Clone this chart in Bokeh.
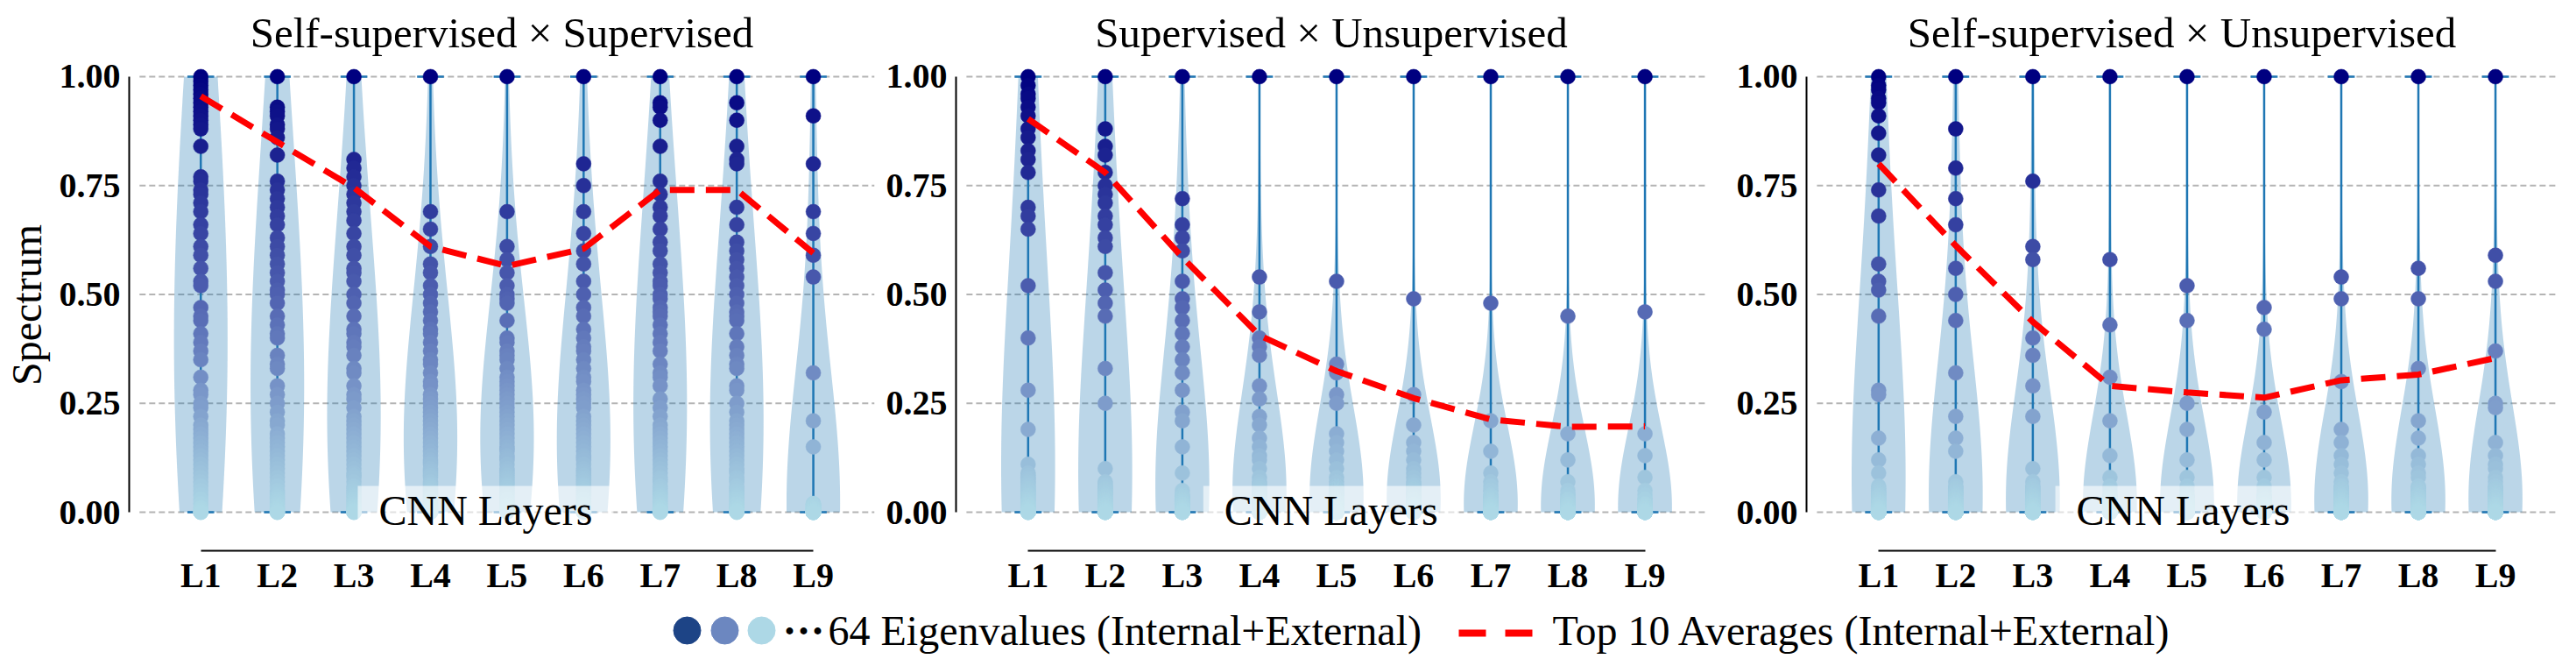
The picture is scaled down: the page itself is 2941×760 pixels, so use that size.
import math
import numpy as np
from bokeh.plotting import figure
from bokeh.layouts import row, column
from bokeh.models import Label, Range1d, FixedTicker, NumeralTickFormatter
from bokeh.embed import file_html
from bokeh.resources import INLINE
from bokeh.core.properties import value

# ---------------- data ----------------
layers = ["L1", "L2", "L3", "L4", "L5", "L6", "L7", "L8", "L9"]
panel_titles = ["Self-supervised \u00d7 Supervised",
                "Supervised \u00d7 Unsupervised",
                "Self-supervised \u00d7 Unsupervised"]
y_ticks = [0.0, 0.25, 0.5, 0.75, 1.0]
legend_labels = ["64 Eigenvalues (Internal+External)",
                 "Top 10 Averages (Internal+External)"]

top10_self_sup = [0.955, 0.85, 0.745, 0.61, 0.565, 0.605, 0.74, 0.74, 0.595]
top10_sup_unsup = [0.903, 0.78, 0.585, 0.406, 0.324, 0.262, 0.213, 0.196, 0.197]
top10_self_unsup = [0.80, 0.612, 0.437, 0.29, 0.275, 0.263, 0.303, 0.316, 0.354]

eig_self_sup = [
    [1.0, 0.99, 0.98, 0.97, 0.96, 0.95, 0.94, 0.93, 0.92, 0.91,
     0.90, 0.89, 0.88, 0.84, 0.77, 0.76, 0.74, 0.73, 0.71, 0.69,
     0.66, 0.64, 0.61, 0.59, 0.56, 0.53, 0.52, 0.47, 0.45, 0.44,
     0.41, 0.39, 0.37, 0.35, 0.31, 0.28, 0.27, 0.25, 0.24, 0.22,
     0.20, 0.19, 0.18, 0.17, 0.16, 0.15, 0.14, 0.13, 0.12, 0.11,
     0.10, 0.09, 0.08, 0.07, 0.06, 0.05, 0.04, 0.03, 0.02, 0.01,
     0.005, 0.0, 0.0, 0.0],
    [1.0, 0.93, 0.92, 0.91, 0.89, 0.88, 0.86, 0.82, 0.76, 0.74,
     0.72, 0.70, 0.68, 0.66, 0.63, 0.61, 0.59, 0.57, 0.55, 0.53,
     0.51, 0.50, 0.48, 0.45, 0.43, 0.41, 0.40, 0.36, 0.34, 0.33,
     0.29, 0.27, 0.25, 0.23, 0.21, 0.20, 0.18, 0.17, 0.16, 0.15,
     0.14, 0.13, 0.12, 0.11, 0.10, 0.09, 0.08, 0.07, 0.06, 0.05,
     0.045, 0.04, 0.035, 0.03, 0.025, 0.02, 0.015, 0.01, 0.008, 0.005,
     0.003, 0.0, 0.0, 0.0],
    [1.0, 0.81, 0.79, 0.77, 0.75, 0.73, 0.71, 0.69, 0.67, 0.64,
     0.61, 0.59, 0.56, 0.55, 0.53, 0.50, 0.48, 0.45, 0.42, 0.41,
     0.39, 0.38, 0.36, 0.33, 0.32, 0.29, 0.27, 0.26, 0.24, 0.22,
     0.21, 0.20, 0.19, 0.18, 0.17, 0.16, 0.15, 0.14, 0.13, 0.12,
     0.11, 0.10, 0.09, 0.085, 0.08, 0.07, 0.06, 0.055, 0.05, 0.045,
     0.04, 0.035, 0.03, 0.025, 0.02, 0.015, 0.01, 0.008, 0.005, 0.003,
     0.002, 0.0, 0.0, 0.0],
    [1.0, 0.69, 0.65, 0.61, 0.57, 0.55, 0.52, 0.50, 0.48, 0.46,
     0.44, 0.42, 0.41, 0.39, 0.37, 0.35, 0.34, 0.32, 0.30, 0.29,
     0.27, 0.26, 0.25, 0.24, 0.23, 0.22, 0.21, 0.20, 0.19, 0.18,
     0.17, 0.16, 0.15, 0.14, 0.13, 0.12, 0.115, 0.11, 0.10, 0.095,
     0.09, 0.085, 0.08, 0.07, 0.065, 0.06, 0.055, 0.05, 0.045, 0.04,
     0.035, 0.03, 0.025, 0.02, 0.018, 0.015, 0.012, 0.01, 0.008, 0.005,
     0.003, 0.002, 0.0, 0.0],
    [1.0, 0.69, 0.61, 0.58, 0.55, 0.52, 0.50, 0.49, 0.48, 0.44,
     0.40, 0.39, 0.37, 0.36, 0.35, 0.33, 0.31, 0.30, 0.29, 0.28,
     0.27, 0.26, 0.25, 0.24, 0.23, 0.22, 0.21, 0.20, 0.19, 0.18,
     0.17, 0.16, 0.15, 0.145, 0.14, 0.13, 0.125, 0.12, 0.11, 0.10,
     0.095, 0.09, 0.085, 0.08, 0.075, 0.07, 0.065, 0.06, 0.055, 0.05,
     0.045, 0.04, 0.035, 0.03, 0.025, 0.02, 0.018, 0.015, 0.012, 0.01,
     0.008, 0.005, 0.003, 0.0],
    [1.0, 0.80, 0.75, 0.69, 0.64, 0.60, 0.57, 0.53, 0.50, 0.47,
     0.45, 0.42, 0.40, 0.38, 0.37, 0.35, 0.33, 0.31, 0.30, 0.28,
     0.27, 0.26, 0.25, 0.24, 0.22, 0.21, 0.20, 0.19, 0.18, 0.17,
     0.16, 0.15, 0.14, 0.13, 0.125, 0.12, 0.11, 0.10, 0.095, 0.09,
     0.085, 0.08, 0.075, 0.07, 0.065, 0.06, 0.055, 0.05, 0.045, 0.04,
     0.035, 0.03, 0.025, 0.02, 0.018, 0.015, 0.012, 0.01, 0.008, 0.005,
     0.003, 0.002, 0.0, 0.0],
    [1.0, 0.94, 0.93, 0.90, 0.84, 0.76, 0.73, 0.70, 0.68, 0.65,
     0.62, 0.60, 0.57, 0.55, 0.53, 0.52, 0.50, 0.49, 0.47, 0.46,
     0.45, 0.43, 0.41, 0.39, 0.37, 0.34, 0.32, 0.31, 0.29, 0.26,
     0.24, 0.22, 0.20, 0.19, 0.18, 0.17, 0.16, 0.15, 0.14, 0.13,
     0.12, 0.11, 0.10, 0.09, 0.08, 0.075, 0.07, 0.06, 0.055, 0.05,
     0.045, 0.04, 0.035, 0.03, 0.025, 0.02, 0.015, 0.01, 0.008, 0.005,
     0.003, 0.002, 0.0, 0.0],
    [1.0, 0.94, 0.90, 0.84, 0.81, 0.80, 0.70, 0.66, 0.62, 0.60,
     0.58, 0.56, 0.54, 0.52, 0.50, 0.48, 0.46, 0.45, 0.44, 0.41,
     0.38, 0.36, 0.34, 0.33, 0.29, 0.28, 0.25, 0.23, 0.21, 0.20,
     0.19, 0.18, 0.17, 0.16, 0.15, 0.14, 0.13, 0.12, 0.11, 0.10,
     0.095, 0.09, 0.08, 0.075, 0.07, 0.06, 0.055, 0.05, 0.045, 0.04,
     0.035, 0.03, 0.025, 0.02, 0.018, 0.015, 0.012, 0.01, 0.008, 0.005,
     0.003, 0.002, 0.0, 0.0],
    [1.0, 0.91, 0.80, 0.69, 0.64, 0.59, 0.54, 0.32, 0.21, 0.15,
     0.02, 0.019, 0.018, 0.017, 0.016, 0.015, 0.014, 0.013, 0.012, 0.011,
     0.010, 0.010, 0.009, 0.009, 0.008, 0.008, 0.007, 0.007, 0.006, 0.006,
     0.005, 0.005, 0.005, 0.004, 0.004, 0.004, 0.003, 0.003, 0.003, 0.003,
     0.002, 0.002, 0.002, 0.002, 0.002, 0.001, 0.001, 0.001, 0.001, 0.001,
     0.001, 0.001, 0.0, 0.0, 0.0, 0.0, 0.0, 0.0, 0.0, 0.0,
     0.0, 0.0, 0.0, 0.0],
]

eig_sup_unsup = [
    [1.0, 0.98, 0.96, 0.95, 0.93, 0.91, 0.88, 0.86, 0.83, 0.81,
     0.78, 0.70, 0.68, 0.65, 0.52, 0.40, 0.28, 0.19, 0.11, 0.09,
     0.085, 0.08, 0.078, 0.075, 0.07, 0.068, 0.065, 0.06, 0.058, 0.055,
     0.052, 0.05, 0.048, 0.045, 0.042, 0.04, 0.038, 0.035, 0.032, 0.03,
     0.028, 0.025, 0.022, 0.02, 0.018, 0.016, 0.014, 0.012, 0.01, 0.009,
     0.008, 0.007, 0.006, 0.005, 0.004, 0.003, 0.002, 0.001, 0.0, 0.0,
     0.0, 0.0, 0.0, 0.0],
    [1.0, 0.88, 0.84, 0.82, 0.78, 0.75, 0.73, 0.71, 0.68, 0.66,
     0.63, 0.61, 0.55, 0.51, 0.48, 0.45, 0.33, 0.25, 0.10, 0.07,
     0.065, 0.06, 0.058, 0.055, 0.052, 0.05, 0.048, 0.045, 0.042, 0.04,
     0.038, 0.035, 0.032, 0.03, 0.028, 0.026, 0.024, 0.022, 0.02, 0.018,
     0.016, 0.015, 0.014, 0.012, 0.011, 0.01, 0.009, 0.008, 0.007, 0.006,
     0.005, 0.004, 0.003, 0.002, 0.001, 0.0, 0.0, 0.0, 0.0, 0.0,
     0.0, 0.0, 0.0, 0.0],
    [1.0, 0.72, 0.66, 0.63, 0.60, 0.53, 0.49, 0.47, 0.44, 0.41,
     0.38, 0.35, 0.32, 0.28, 0.23, 0.21, 0.15, 0.09, 0.05, 0.04,
     0.038, 0.036, 0.035, 0.033, 0.032, 0.03, 0.029, 0.028, 0.026, 0.025,
     0.024, 0.022, 0.021, 0.02, 0.019, 0.018, 0.017, 0.016, 0.015, 0.014,
     0.013, 0.012, 0.011, 0.01, 0.009, 0.008, 0.007, 0.006, 0.005, 0.004,
     0.003, 0.003, 0.002, 0.002, 0.001, 0.001, 0.0, 0.0, 0.0, 0.0,
     0.0, 0.0, 0.0, 0.0],
    [1.0, 0.54, 0.46, 0.40, 0.38, 0.36, 0.29, 0.26, 0.22, 0.20,
     0.17, 0.15, 0.13, 0.12, 0.10, 0.08, 0.07, 0.065, 0.06, 0.055,
     0.05, 0.048, 0.045, 0.042, 0.04, 0.038, 0.035, 0.032, 0.03, 0.028,
     0.026, 0.024, 0.022, 0.02, 0.018, 0.016, 0.015, 0.014, 0.012, 0.011,
     0.01, 0.009, 0.008, 0.007, 0.006, 0.005, 0.004, 0.004, 0.003, 0.003,
     0.002, 0.002, 0.001, 0.001, 0.0, 0.0, 0.0, 0.0, 0.0, 0.0,
     0.0, 0.0, 0.0, 0.0],
    [1.0, 0.53, 0.34, 0.32, 0.27, 0.25, 0.18, 0.16, 0.14, 0.12,
     0.10, 0.08, 0.07, 0.06, 0.058, 0.055, 0.052, 0.05, 0.048, 0.045,
     0.042, 0.04, 0.038, 0.035, 0.032, 0.03, 0.028, 0.026, 0.024, 0.022,
     0.02, 0.018, 0.016, 0.015, 0.014, 0.012, 0.011, 0.01, 0.009, 0.008,
     0.007, 0.006, 0.005, 0.004, 0.004, 0.003, 0.003, 0.002, 0.002, 0.001,
     0.001, 0.0, 0.0, 0.0, 0.0, 0.0, 0.0, 0.0, 0.0, 0.0,
     0.0, 0.0, 0.0, 0.0],
    [1.0, 0.49, 0.27, 0.20, 0.16, 0.14, 0.12, 0.10, 0.09, 0.08,
     0.07, 0.065, 0.06, 0.058, 0.055, 0.052, 0.05, 0.048, 0.045, 0.042,
     0.04, 0.038, 0.035, 0.032, 0.03, 0.028, 0.026, 0.024, 0.022, 0.02,
     0.018, 0.016, 0.015, 0.014, 0.012, 0.011, 0.01, 0.009, 0.008, 0.007,
     0.006, 0.005, 0.004, 0.004, 0.003, 0.003, 0.002, 0.002, 0.001, 0.001,
     0.0, 0.0, 0.0, 0.0, 0.0, 0.0, 0.0, 0.0, 0.0, 0.0,
     0.0, 0.0, 0.0, 0.0],
    [1.0, 0.48, 0.21, 0.14, 0.09, 0.07, 0.06, 0.05, 0.05, 0.04,
     0.038, 0.036, 0.035, 0.033, 0.032, 0.03, 0.029, 0.028, 0.026, 0.025,
     0.024, 0.022, 0.021, 0.02, 0.019, 0.018, 0.017, 0.016, 0.015, 0.014,
     0.013, 0.012, 0.011, 0.01, 0.009, 0.008, 0.007, 0.006, 0.005, 0.005,
     0.004, 0.004, 0.003, 0.003, 0.002, 0.002, 0.001, 0.001, 0.001, 0.0,
     0.0, 0.0, 0.0, 0.0, 0.0, 0.0, 0.0, 0.0, 0.0, 0.0,
     0.0, 0.0, 0.0, 0.0],
    [1.0, 0.45, 0.18, 0.12, 0.07, 0.05, 0.04, 0.04, 0.03, 0.03,
     0.029, 0.028, 0.027, 0.026, 0.025, 0.024, 0.023, 0.022, 0.021, 0.02,
     0.019, 0.018, 0.017, 0.016, 0.015, 0.014, 0.013, 0.012, 0.011, 0.01,
     0.009, 0.009, 0.008, 0.008, 0.007, 0.007, 0.006, 0.006, 0.005, 0.005,
     0.004, 0.004, 0.003, 0.003, 0.002, 0.002, 0.001, 0.001, 0.0, 0.0,
     0.0, 0.0, 0.0, 0.0, 0.0, 0.0, 0.0, 0.0, 0.0, 0.0,
     0.0, 0.0, 0.0, 0.0],
    [1.0, 0.46, 0.18, 0.13, 0.08, 0.05, 0.04, 0.03, 0.03, 0.02,
     0.019, 0.018, 0.018, 0.017, 0.016, 0.015, 0.015, 0.014, 0.013, 0.012,
     0.012, 0.011, 0.01, 0.01, 0.009, 0.009, 0.008, 0.008, 0.007, 0.007,
     0.006, 0.006, 0.005, 0.005, 0.004, 0.004, 0.003, 0.003, 0.003, 0.002,
     0.002, 0.002, 0.001, 0.001, 0.001, 0.0, 0.0, 0.0, 0.0, 0.0,
     0.0, 0.0, 0.0, 0.0, 0.0, 0.0, 0.0, 0.0, 0.0, 0.0,
     0.0, 0.0, 0.0, 0.0],
]

eig_self_unsup = [
    [1.0, 0.98, 0.97, 0.95, 0.94, 0.91, 0.87, 0.82, 0.74, 0.68,
     0.57, 0.53, 0.51, 0.45, 0.28, 0.27, 0.17, 0.12, 0.09, 0.06,
     0.055, 0.05, 0.048, 0.045, 0.042, 0.04, 0.038, 0.035, 0.032, 0.03,
     0.028, 0.026, 0.024, 0.022, 0.02, 0.018, 0.016, 0.015, 0.014, 0.012,
     0.011, 0.01, 0.009, 0.008, 0.007, 0.006, 0.005, 0.004, 0.003, 0.002,
     0.001, 0.0, 0.0, 0.0, 0.0, 0.0, 0.0, 0.0, 0.0, 0.0,
     0.0, 0.0, 0.0, 0.0],
    [1.0, 0.88, 0.79, 0.72, 0.66, 0.56, 0.50, 0.44, 0.32, 0.22,
     0.17, 0.14, 0.07, 0.06, 0.058, 0.055, 0.052, 0.05, 0.048, 0.045,
     0.042, 0.04, 0.038, 0.035, 0.032, 0.03, 0.028, 0.026, 0.024, 0.022,
     0.02, 0.018, 0.016, 0.015, 0.014, 0.012, 0.011, 0.01, 0.009, 0.008,
     0.007, 0.006, 0.005, 0.004, 0.004, 0.003, 0.003, 0.002, 0.002, 0.001,
     0.001, 0.0, 0.0, 0.0, 0.0, 0.0, 0.0, 0.0, 0.0, 0.0,
     0.0, 0.0, 0.0, 0.0],
    [1.0, 0.76, 0.61, 0.58, 0.40, 0.36, 0.29, 0.22, 0.10, 0.07,
     0.06, 0.058, 0.055, 0.052, 0.05, 0.048, 0.045, 0.042, 0.04, 0.038,
     0.035, 0.032, 0.03, 0.028, 0.026, 0.024, 0.022, 0.02, 0.018, 0.016,
     0.015, 0.014, 0.012, 0.011, 0.01, 0.009, 0.008, 0.007, 0.006, 0.005,
     0.004, 0.004, 0.003, 0.003, 0.002, 0.002, 0.001, 0.001, 0.0, 0.0,
     0.0, 0.0, 0.0, 0.0, 0.0, 0.0, 0.0, 0.0, 0.0, 0.0,
     0.0, 0.0, 0.0, 0.0],
    [1.0, 0.58, 0.43, 0.31, 0.21, 0.13, 0.08, 0.06, 0.05, 0.04,
     0.038, 0.036, 0.035, 0.033, 0.032, 0.03, 0.029, 0.028, 0.026, 0.025,
     0.024, 0.022, 0.021, 0.02, 0.019, 0.018, 0.017, 0.016, 0.015, 0.014,
     0.013, 0.012, 0.011, 0.01, 0.009, 0.008, 0.007, 0.006, 0.005, 0.005,
     0.004, 0.004, 0.003, 0.003, 0.002, 0.002, 0.001, 0.001, 0.001, 0.0,
     0.0, 0.0, 0.0, 0.0, 0.0, 0.0, 0.0, 0.0, 0.0, 0.0,
     0.0, 0.0, 0.0, 0.0],
    [1.0, 0.52, 0.44, 0.25, 0.19, 0.12, 0.08, 0.06, 0.05, 0.04,
     0.038, 0.036, 0.035, 0.033, 0.032, 0.03, 0.029, 0.028, 0.026, 0.025,
     0.024, 0.022, 0.021, 0.02, 0.019, 0.018, 0.017, 0.016, 0.015, 0.014,
     0.013, 0.012, 0.011, 0.01, 0.009, 0.008, 0.007, 0.006, 0.005, 0.005,
     0.004, 0.004, 0.003, 0.003, 0.002, 0.002, 0.001, 0.001, 0.001, 0.0,
     0.0, 0.0, 0.0, 0.0, 0.0, 0.0, 0.0, 0.0, 0.0, 0.0,
     0.0, 0.0, 0.0, 0.0],
    [1.0, 0.47, 0.42, 0.23, 0.16, 0.12, 0.08, 0.06, 0.05, 0.04,
     0.038, 0.036, 0.035, 0.033, 0.032, 0.03, 0.029, 0.028, 0.026, 0.025,
     0.024, 0.022, 0.021, 0.02, 0.019, 0.018, 0.017, 0.016, 0.015, 0.014,
     0.013, 0.012, 0.011, 0.01, 0.009, 0.008, 0.007, 0.006, 0.005, 0.005,
     0.004, 0.004, 0.003, 0.003, 0.002, 0.002, 0.001, 0.001, 0.001, 0.0,
     0.0, 0.0, 0.0, 0.0, 0.0, 0.0, 0.0, 0.0, 0.0, 0.0,
     0.0, 0.0, 0.0, 0.0],
    [1.0, 0.54, 0.49, 0.30, 0.19, 0.16, 0.13, 0.11, 0.09, 0.07,
     0.06, 0.058, 0.055, 0.052, 0.05, 0.048, 0.045, 0.042, 0.04, 0.038,
     0.035, 0.032, 0.03, 0.028, 0.026, 0.024, 0.022, 0.02, 0.018, 0.016,
     0.015, 0.014, 0.012, 0.011, 0.01, 0.009, 0.008, 0.007, 0.006, 0.005,
     0.004, 0.004, 0.003, 0.003, 0.002, 0.002, 0.001, 0.001, 0.0, 0.0,
     0.0, 0.0, 0.0, 0.0, 0.0, 0.0, 0.0, 0.0, 0.0, 0.0,
     0.0, 0.0, 0.0, 0.0],
    [1.0, 0.56, 0.49, 0.33, 0.21, 0.17, 0.13, 0.11, 0.09, 0.08,
     0.06, 0.058, 0.055, 0.052, 0.05, 0.048, 0.045, 0.042, 0.04, 0.038,
     0.035, 0.032, 0.03, 0.028, 0.026, 0.024, 0.022, 0.02, 0.018, 0.016,
     0.015, 0.014, 0.012, 0.011, 0.01, 0.009, 0.008, 0.007, 0.006, 0.005,
     0.004, 0.004, 0.003, 0.003, 0.002, 0.002, 0.001, 0.001, 0.0, 0.0,
     0.0, 0.0, 0.0, 0.0, 0.0, 0.0, 0.0, 0.0, 0.0, 0.0,
     0.0, 0.0, 0.0, 0.0],
    [1.0, 0.59, 0.53, 0.37, 0.25, 0.24, 0.16, 0.13, 0.11, 0.10,
     0.08, 0.07, 0.06, 0.058, 0.055, 0.052, 0.05, 0.048, 0.045, 0.042,
     0.04, 0.038, 0.035, 0.032, 0.03, 0.028, 0.026, 0.024, 0.022, 0.02,
     0.018, 0.016, 0.015, 0.014, 0.012, 0.011, 0.01, 0.009, 0.008, 0.007,
     0.006, 0.005, 0.004, 0.004, 0.003, 0.003, 0.002, 0.002, 0.001, 0.001,
     0.0, 0.0, 0.0, 0.0, 0.0, 0.0, 0.0, 0.0, 0.0, 0.0,
     0.0, 0.0, 0.0, 0.0],
]

# ---------------- style ----------------
SERIF = "Liberation Serif"
BODY = "#1f77b4"
GRID = "#b4b4b4"
CMAP_POS = [0.0, 0.5, 1.0]
CMAP_RGB = [(173, 216, 230), (78, 96, 176), (0, 0, 128)]
LEGEND_DOTS = ["#1d4486", "#6c87c0", "#add8e6"]

X_RANGE = (0.065, 9.8)
Y_RANGE = (-0.0885, 1.0402)
GRID_X = (0.2, 9.8)
VIOLIN_HALF = 0.35
CAP_HALF = 0.175
BW_FACTOR = 1.3
FIG_H = 688
TOP_BORDER = 67


def val_color(v):
    r = np.interp(v, CMAP_POS, [c[0] for c in CMAP_RGB])
    g = np.interp(v, CMAP_POS, [c[1] for c in CMAP_RGB])
    b = np.interp(v, CMAP_POS, [c[2] for c in CMAP_RGB])
    return "#%02x%02x%02x" % (int(round(r)), int(round(g)), int(round(b)))


def violin_outline(vals, pos):
    v = np.asarray(vals, dtype=float)
    ys = np.linspace(v.min(), v.max(), 100)
    bw = BW_FACTOR * v.std(ddof=1)
    dens = np.exp(-0.5 * ((ys[:, None] - v[None, :]) / bw) ** 2).sum(axis=1)
    w = VIOLIN_HALF * dens / dens.max()
    xs = np.concatenate([pos - w, (pos + w)[::-1]])
    yy = np.concatenate([ys, ys[::-1]])
    return xs.tolist(), yy.tolist()


def make_panel(title, eigs, top10, width, lb, rb, title_offset, xlabel_x, ylabel):
    p = figure(width=width, height=FIG_H,
               x_range=Range1d(*X_RANGE), y_range=Range1d(*Y_RANGE),
               output_backend="svg", toolbar_location=None,
               min_border_left=lb, min_border_right=rb,
               min_border_top=TOP_BORDER, min_border_bottom=60)
    p.outline_line_color = None
    p.grid.visible = False

    p.title.text = title
    p.title.text_font = SERIF
    p.title.text_font_size = "49px"
    p.title.text_font_style = "normal"
    p.title.text_color = "black"
    p.title.align = "center"
    p.title.offset = title_offset
    p.title.standoff = 5

    positions = list(range(1, len(layers) + 1))

    # horizontal dashed grid
    p.segment(x0=[GRID_X[0]] * len(y_ticks), x1=[GRID_X[1]] * len(y_ticks),
              y0=y_ticks, y1=y_ticks, line_color=GRID, line_width=2,
              line_dash="7 4")

    # violin bodies
    xs_l, ys_l = [], []
    for pos, vals in zip(positions, eigs):
        xs, ys = violin_outline(vals, pos)
        xs_l.append(xs)
        ys_l.append(ys)
    p.patches(xs_l, ys_l, fill_color=BODY, fill_alpha=0.3, line_color=None)

    mins = [min(v) for v in eigs]
    maxs = [max(v) for v in eigs]
    p.segment(x0=positions, x1=positions, y0=mins, y1=maxs,
              line_color=BODY, line_width=2.5)
    p.segment(x0=[q - CAP_HALF for q in positions], x1=[q + CAP_HALF for q in positions],
              y0=maxs, y1=maxs, line_color=BODY, line_width=2.5)
    p.segment(x0=[q - CAP_HALF for q in positions], x1=[q + CAP_HALF for q in positions],
              y0=mins, y1=mins, line_color=BODY, line_width=2.5)

    # eigenvalue points
    px, py, pc = [], [], []
    for pos, vals in zip(positions, eigs):
        for v in vals:
            px.append(pos)
            py.append(v)
            pc.append(val_color(v))
    p.scatter(px, py, size=17, fill_color=pc, line_color=pc, line_width=0.5)

    # top-10 average line
    p.line(positions, top10, line_color="red", line_width=7, line_dash="28 13")

    # axes
    xa = p.xaxis[0]
    xa.ticker = FixedTicker(ticks=positions)
    xa.major_label_overrides = {q: lab for q, lab in zip(positions, layers)}
    xa.bounds = (positions[0], positions[-1])
    ya = p.yaxis[0]
    ya.ticker = FixedTicker(ticks=y_ticks)
    ya.formatter = NumeralTickFormatter(format="0.00")
    ya.bounds = (y_ticks[0], y_ticks[-1])
    for ax in (xa, ya):
        ax.major_tick_out = 0
        ax.major_tick_in = 0
        ax.minor_tick_out = 0
        ax.minor_tick_in = 0
        ax.axis_line_color = "black"
        ax.axis_line_width = 2
        ax.major_label_text_font = SERIF
        ax.major_label_text_font_size = "40px"
        ax.major_label_text_font_style = "bold"
        ax.major_label_text_color = "black"
    xa.major_label_standoff = 5
    ya.major_label_standoff = 10
    if ylabel:
        ya.axis_label = ylabel
        ya.axis_label_text_font = SERIF
        ya.axis_label_text_font_size = "48px"
        ya.axis_label_text_font_style = "normal"
        ya.axis_label_text_color = "black"
        ya.axis_label_standoff = 8

    p.add_layout(Label(x=xlabel_x, y=0.0, text="CNN Layers", text_font=SERIF,
                       text_font_size="48px", text_align="center",
                       text_baseline="middle", text_color="black",
                       background_fill_color="white", background_fill_alpha=0.6,
                       padding=dict(left=24, right=24, top=1, bottom=6)))
    return p


p1 = make_panel(panel_titles[0], eig_self_sup, top10_self_sup, 1001, 141, 3, -10, 4.72, "Spectrum")
p2 = make_panel(panel_titles[1], eig_sup_unsup, top10_sup_unsup, 950, 90, 3, -2, 4.93, None)
p3 = make_panel(panel_titles[2], eig_self_unsup, top10_self_unsup, 974, 111, 6, -12, 4.95, None)

# legend strip (page pixel coordinates)
leg = figure(width=2925, height=64, x_range=Range1d(8, 2933), y_range=Range1d(752, 688),
             output_backend="svg", toolbar_location=None, min_border=0,
             x_axis_location=None, y_axis_location=None, title=None)
leg.grid.visible = False
leg.outline_line_color = None
leg.scatter(x=[792, 835, 877], y=[719, 719, 719], size=31,
            fill_color=LEGEND_DOTS, line_color=LEGEND_DOTS)
leg.text(x=[901], y=[719], text=["\u00b7\u00b7\u00b7"], text_font=value(SERIF),
         text_font_size="48px", text_font_style="bold", text_baseline="middle",
         text_color="black")
leg.text(x=[953], y=[719], text=[legend_labels[0]], text_font=value(SERIF),
         text_font_size="48px", text_baseline="middle", text_color="black")
leg.line(x=[1673, 1759], y=[722, 722], line_color="red", line_width=8, line_dash="31 22")
leg.text(x=[1780], y=[719], text=[legend_labels[1]], text_font=value(SERIF),
         text_font_size="48px", text_baseline="middle", text_color="black")

layout = column(row(p1, p2, p3), leg)
open("out.html", "w").write(file_html(layout, INLINE))
